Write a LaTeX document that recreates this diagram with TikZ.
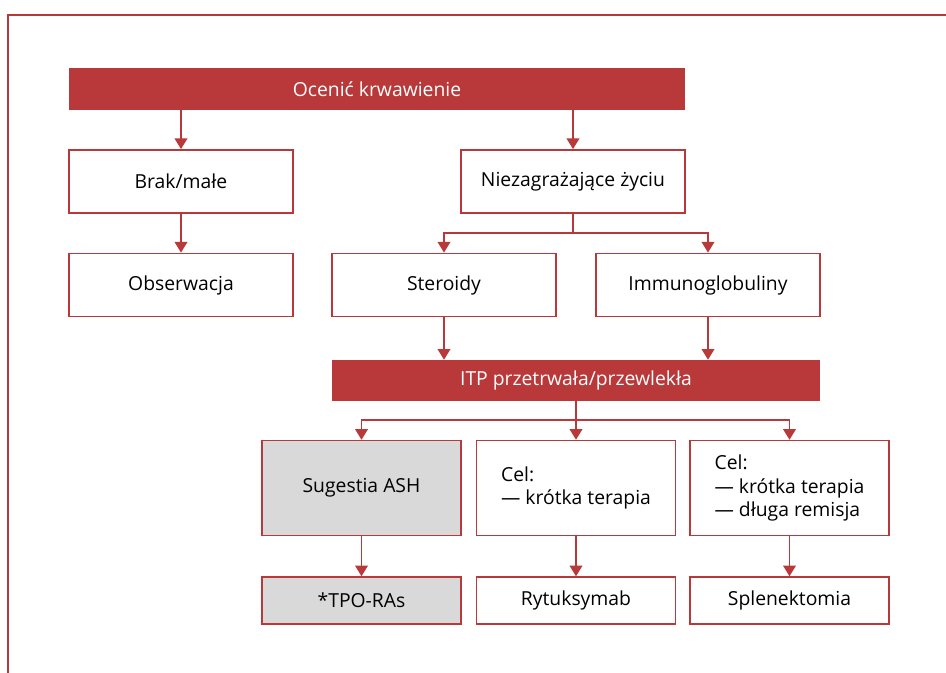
\documentclass[tikz,border=0pt]{standalone}
\usepackage{fontspec}
\setmainfont{Open Sans}
\usetikzlibrary{positioning}
\usetikzlibrary{arrows.meta}
\definecolor{itpred}{RGB}{185,56,57}
\definecolor{boxgray}{RGB}{217,217,217}
\tikzset{
  box/.style={draw=itpred, line width=1.1pt, fill=white, inner sep=0pt,
    minimum width=168pt, minimum height=47.5pt, align=center,
    font=\fontsize{14.5}{17.6}\selectfont},
  bar/.style={fill=itpred, text=white, inner sep=0pt, minimum height=31.5pt,
    font=\fontsize{14.5}{17.6}\selectfont},
  goal/.style={box, minimum width=149.25pt, minimum height=71.25pt, align=left},
  leaf/.style={box, minimum width=149.25pt, minimum height=35.25pt},
  flow/.style={draw=itpred, line width=1.1pt},
  arr/.style={flow, -{Triangle[width=9.5pt,length=8pt]}},
}
\begin{document}
\begin{tikzpicture}[x=0.75pt, y=-0.75pt]
    \useasboundingbox (0,0) rectangle (946,673);
    \draw[itpred, line width=1.5pt] (8,673) |- (946,15);

    \node[bar, minimum width=462pt] (assess) at (377,89) {Ocenić krwawienie};
    \node[box] (minor) at (181,181.5) {Brak/małe};
    \node[box] (nonlife) at (573,181.5) {Niezagrażające życiu};
    \node[box] (observe) at (181,285) {Obserwacja};
    \node[box] (steroids) at (444,285) {Steroidy};
    \node[box] (ivig) at (708,285) {Immunoglobuliny};
    \node[bar, minimum width=366pt, minimum height=30.75pt] (itp) at (576,380.5) {ITP przetrwała/przewlekła};
    \node[goal, fill=boxgray, align=center] (ash) at (361.5,488) {Sugestia ASH};
    \node[goal] (goalA) at (576,488) {Cel:\\— krótka terapia};
    \node[goal] (goalB) at (789.5,488) {Cel:\\— krótka terapia\\— długa remisja};
    \node[leaf, fill=boxgray] (tpo) at (361.5,600.5) {*TPO-RAs};
    \node[leaf] (ritux) at (576,600.5) {Rytuksymab};
    \node[leaf] (splen) at (789.5,600.5) {Splenektomia};

    \coordinate (split1) at (573,233);
    \coordinate (split2) at (576,420);

    \draw[arr] (minor |- assess.south) -- (minor);
    \draw[arr] (nonlife |- assess.south) -- (nonlife);
    \draw[arr] (minor) -- (observe);
    \draw[flow] (nonlife) -- (split1);
    \draw[arr] (split1) -| (steroids);
    \draw[arr] (split1) -| (ivig);
    \draw[arr] (steroids) -- (steroids |- itp.north);
    \draw[arr] (ivig) -- (ivig |- itp.north);
    \draw[flow] (itp) -- (split2);
    \draw[arr] (split2) -| (ash);
    \draw[arr] (split2) -- (goalA);
    \draw[arr] (split2) -| (goalB);
    \draw[arr] (ash) -- (tpo);
    \draw[arr] (goalA) -- (ritux);
    \draw[arr] (goalB) -- (splen);
\end{tikzpicture}
\end{document}
